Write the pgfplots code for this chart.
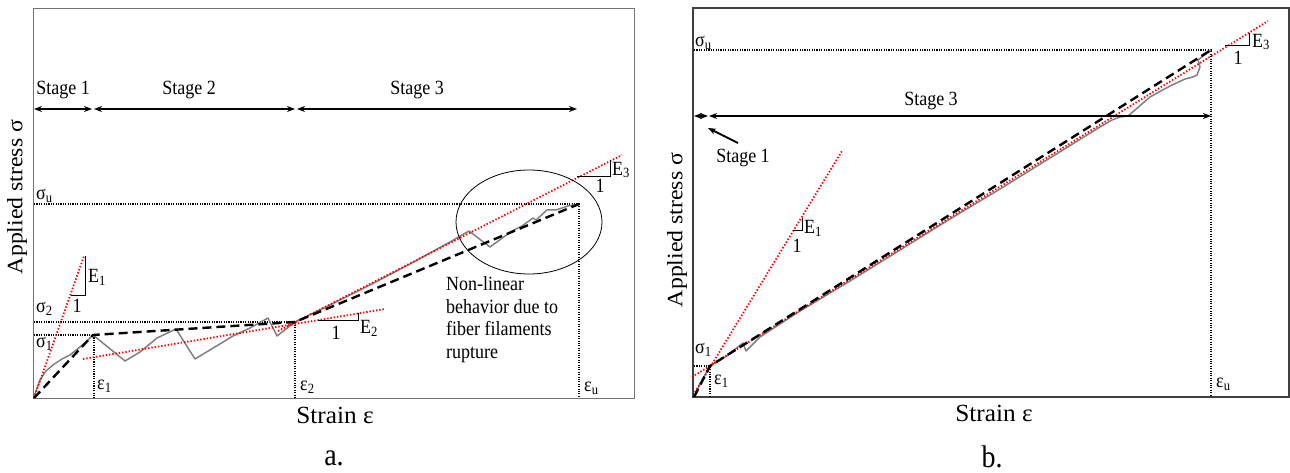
\documentclass[border=0pt]{standalone}
\usepackage{fontspec}
\setmainfont{Liberation Serif}
\usepackage{pgfplots}
\pgfplotsset{compat=1.18}
\usetikzlibrary{arrows.meta}
\newcommand{\st}[1]{\scalebox{1}[1.12]{#1}}
\newcommand{\sr}[1]{\scalebox{1.08}[1]{#1}}
\begin{document}
\begin{tikzpicture}
\path[use as bounding box] (0,0) rectangle (1290pt,473pt);
\pgfplotsset{
  schem/.style={scale only axis, y dir=reverse, clip=false, xtick=\empty, ytick=\empty},
  model/.style={black, line width=2.4pt, dash pattern=on 9pt off 5pt},
  fit/.style={red, line width=1.8pt, dash pattern=on 1.4pt off 1.9pt},
  expt/.style={black!50, line width=1.5pt, line join=round},
  ref/.style={black, line width=1.3pt, dash pattern=on 1.1pt off 1.3pt},
}
\tikzset{
  lab/.style={font=\fontsize{18}{20}\selectfont, inner sep=0pt},
  big/.style={font=\fontsize{22}{24}\selectfont, inner sep=0pt},
  stg/.style={black, line width=1.8pt, {Stealth[length=8pt,width=6pt]}-{Stealth[length=8pt,width=6pt]}},
  tri/.style={black, line width=1pt},
}
% ---------------- panel a ----------------
\begin{axis}[schem, at={(33pt,75pt)}, anchor=south west, width=601pt, height=390pt,
  xmin=33, xmax=634, ymin=8, ymax=398, axis line style={black!55, line width=0.9pt}]
\addplot[ref] coordinates {(34,204) (579,204) (579,398)};
\addplot[ref] coordinates {(34,322) (295,322) (295,398)};
\addplot[ref] coordinates {(34,335) (94,335) (94,398)};
\addplot[expt] coordinates {(34,398) (35,394) (37,388) (40,380) (46,371) (53,365) (62,359) (70,355) (80,347) (87,341) (93,335)
  (125,361) (140,352) (157,338) (176,329) (195,359) (233,336) (250,328) (268,318) (277,336) (295,322)
  (330,305) (370,285) (410,264) (450,242) (469,231) (490,247) (512,231) (522,226) (533,218) (536,220) (547,210) (556,210) (568,206) (579,204)};
\addplot[fit] coordinates {(34,398) (84,256)};
\addplot[fit] coordinates {(83,359) (385,309)};
\addplot[fit] coordinates {(278,331) (622,155)};
\addplot[model] coordinates {(34,398) (93,335) (295,322) (579,204)};
\draw[stg] (axis cs:34,109) -- (axis cs:92,109);
\draw[stg] (axis cs:94,109) -- (axis cs:295,109);
\draw[stg] (axis cs:297,109) -- (axis cs:577,109);
\draw[tri] (axis cs:71,295) -- (axis cs:85,295) -- (axis cs:85,256);
\draw[tri] (axis cs:318,320) -- (axis cs:358,320) -- (axis cs:358,313);
\draw[tri] (axis cs:577,177) -- (axis cs:610,177) -- (axis cs:610,160);
\draw[black, line width=0.8pt] (axis cs:529,222) ellipse [x radius=73pt, y radius=52pt];
\node[lab] at (axis cs:63,90) {\st{Stage 1}};
\node[lab] at (axis cs:189,90) {\st{Stage 2}};
\node[lab] at (axis cs:417,90) {\st{Stage 3}};
\node[lab, anchor=west] at (axis cs:36,196) {\st{σ\textsubscript{u}}};
\node[lab, anchor=west] at (axis cs:36,309) {\st{σ\textsubscript{2}}};
\node[lab, anchor=west] at (axis cs:36,344) {\st{σ\textsubscript{1}}};
\node[lab, anchor=west] at (axis cs:97,386) {\st{ε\textsubscript{1}}};
\node[lab, anchor=west] at (axis cs:300,387) {\st{ε\textsubscript{2}}};
\node[lab, anchor=west] at (axis cs:584,388) {\st{ε\textsubscript{u}}};
\node[lab, anchor=west] at (axis cs:88,277) {\st{E\textsubscript{1}}};
\node[lab] at (axis cs:77,306) {\st{1}};
\node[lab, anchor=west] at (axis cs:360,328) {\st{E\textsubscript{2}}};
\node[lab] at (axis cs:336,333) {\st{1}};
\node[lab, anchor=west] at (axis cs:612,170) {\st{E\textsubscript{3}}};
\node[lab] at (axis cs:600,186) {\st{1}};
\node[lab, anchor=north west] at (axis cs:446,275) {\st{\begin{tabular}{@{}l@{}}Non-linear\\behavior due to\\fiber filaments\\rupture\end{tabular}}};
\node[big, rotate=90] at (axis cs:17,197) {\sr{Applied stress σ}};
\node[big] at (axis cs:335,415) {\scalebox{1.15}[1.12]{Strain ε}};
\node[font=\fontsize{28}{30}\selectfont, inner sep=0pt] at (axis cs:334,458) {\st{a.}};
\end{axis}
% ---------------- panel b ----------------
\begin{axis}[schem, at={(693pt,76pt)}, anchor=south west, width=596pt, height=389pt,
  xmin=693, xmax=1289, ymin=8, ymax=397, axis line style={black!75, line width=1.3pt}]
\addplot[ref] coordinates {(694,50) (1211,50) (1211,397)};
\addplot[ref] coordinates {(694,366) (710,366) (710,397)};
\addplot[expt] coordinates {(694,397) (700,384) (706,373) (710,366) (725,357) (743,343) (746,351) (760,337)
  (800,311) (850,281) (900,250) (950,219) (1000,189) (1050,158) (1100,127) (1112,120) (1120,117) (1128,116) (1150,97) (1170,86) (1185,79) (1193,77) (1197,75) (1200,67) (1198,60) (1203,56) (1211,50)};
\addplot[fit] coordinates {(695,392) (842,151)};
\addplot[fit] coordinates {(692,377) (1268,21)};
\addplot[model] coordinates {(694,397) (710,366) (1211,50)};
\draw[stg] (axis cs:694,116) -- (axis cs:708,116);
\draw[stg] (axis cs:709,116) -- (axis cs:1211,116);
\draw[black, line width=1.8pt, -{Stealth[length=8pt,width=6pt]}] (axis cs:738,143) -- (axis cs:708,128);
\draw[tri] (axis cs:793,231) -- (axis cs:802,231) -- (axis cs:802,218);
\draw[tri] (axis cs:1225,46) -- (axis cs:1249,46) -- (axis cs:1249,33);
\node[lab, anchor=west] at (axis cs:695,43) {\st{σ\textsubscript{u}}};
\node[lab] at (axis cs:931,101) {\st{Stage 3}};
\node[lab] at (axis cs:743,158) {\st{Stage 1}};
\node[lab, anchor=west] at (axis cs:695,350) {\st{σ\textsubscript{1}}};
\node[lab, anchor=west] at (axis cs:714,381) {\st{ε\textsubscript{1}}};
\node[lab, anchor=west] at (axis cs:1216,384) {\st{ε\textsubscript{u}}};
\node[lab, anchor=west] at (axis cs:804,228) {\st{E\textsubscript{1}}};
\node[lab] at (axis cs:797,246) {\st{1}};
\node[lab, anchor=west] at (axis cs:1252,42) {\st{E\textsubscript{3}}};
\node[lab] at (axis cs:1238,58) {\st{1}};
\node[big, rotate=90] at (axis cs:677,230) {\sr{Applied stress σ}};
\node[big] at (axis cs:994,413) {\scalebox{1.15}[1.12]{Strain ε}};
\node[font=\fontsize{28}{30}\selectfont, inner sep=0pt] at (axis cs:992,457) {\st{b.}};
\end{axis}
\end{tikzpicture}
\end{document}
